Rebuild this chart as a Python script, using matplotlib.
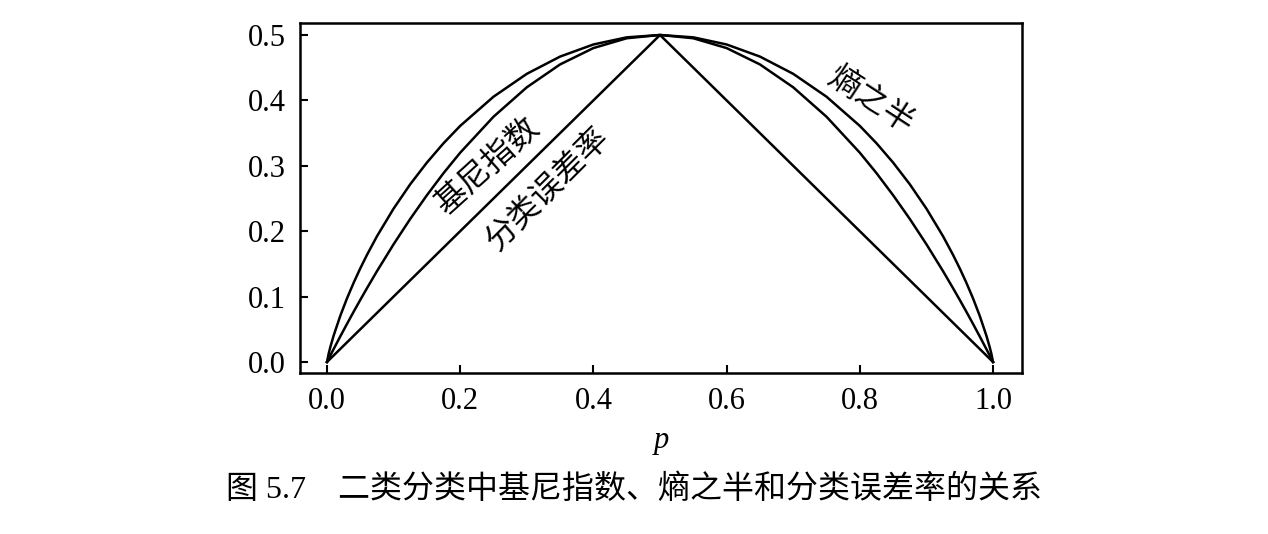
import matplotlib
matplotlib.use("Agg")
from matplotlib import pyplot as plt

plt.rcParams['font.family'] = ['Liberation Serif', 'Noto Sans CJK SC', 'DejaVu Sans']

### values
p = [0.0, 0.0025, 0.005, 0.01, 0.02, 0.03, 0.04, 0.05, 0.06, 0.075, 0.1, 0.125, 0.15, 0.175,
     0.2, 0.25, 0.3, 0.35, 0.4, 0.45, 0.5,
     0.55, 0.6, 0.65, 0.7, 0.75, 0.8, 0.825, 0.85, 0.875, 0.9, 0.925, 0.94, 0.95, 0.96,
     0.97, 0.98, 0.99, 0.995, 0.9975, 1.0]
entropy_half = [0.0, 0.0126, 0.0227, 0.0404, 0.0707, 0.0972, 0.1211, 0.1432, 0.1637, 0.1922,
                0.2345, 0.2718, 0.3049, 0.3345, 0.3610, 0.4056, 0.4406, 0.4670, 0.4855, 0.4964,
                0.5,
                0.4964, 0.4855, 0.4670, 0.4406, 0.4056, 0.3610, 0.3345, 0.3049, 0.2718, 0.2345,
                0.1922, 0.1637, 0.1432, 0.1211, 0.0972, 0.0707, 0.0404, 0.0227, 0.0126, 0.0]
gini = [0.0, 0.0050, 0.0100, 0.0198, 0.0392, 0.0582, 0.0768, 0.0950, 0.1128, 0.1388, 0.1800,
        0.2188, 0.2550, 0.2888, 0.3200, 0.3750, 0.4200, 0.4550, 0.4800, 0.4950, 0.5,
        0.4950, 0.4800, 0.4550, 0.4200, 0.3750, 0.3200, 0.2888, 0.2550, 0.2188, 0.1800,
        0.1388, 0.1128, 0.0950, 0.0768, 0.0582, 0.0392, 0.0198, 0.0100, 0.0050, 0.0]
err_p = [0.0, 0.5, 1.0]
err = [0.0, 0.5, 0.0]

xticks = [0.0, 0.2, 0.4, 0.6, 0.8, 1.0]
yticks = [0.0, 0.1, 0.2, 0.3, 0.4, 0.5]

fig = plt.figure(figsize=(12.68, 5.34), dpi=100)
ax = fig.add_axes([0.2366, 0.3015, 0.5694, 0.6554])

lw = 1.8
ax.plot(p, entropy_half, color='black', lw=lw)
ax.plot(p, gini, color='black', lw=lw)
ax.plot(err_p, err, color='black', lw=lw)

ax.set_xlim(-0.0405, 1.0435)
ax.set_ylim(-0.0168, 0.5183)
ax.set_xticks(xticks)
ax.set_yticks(yticks)
ax.set_xticklabels(["{:.1f}".format(v) for v in xticks])
ax.set_yticklabels(["{:.1f}".format(v) for v in yticks])
ax.tick_params(direction='in', length=6, width=1.5, labelsize=22, top=False, right=False)
ax.tick_params(axis='x', pad=10)
ax.tick_params(axis='y', pad=10)
for s in ax.spines.values():
    s.set_linewidth(1.8)

ax.set_xlabel('p', fontsize=22, style='italic', labelpad=7)

cjk = ['Noto Sans CJK SC', 'DejaVu Sans']
ax.text(0.243, 0.30, '基尼指数', rotation=42, fontsize=23, family=cjk,
        ha='center', va='center')
ax.text(0.332, 0.264, '分类误差率', rotation=45, fontsize=23, family=cjk,
        ha='center', va='center')
ax.text(0.817, 0.40, '熵之半', rotation=-33, fontsize=23, family=cjk,
        ha='center', va='center')

fig.text(0.5, 1 - 490 / 534, '图 5.7\u3000二类分类中基尼指数、熵之半和分类误差率的关系',
         fontsize=23, family=['Liberation Serif', 'Noto Sans CJK SC'],
         ha='center', va='center')

fig.savefig('out.png', dpi=100)
